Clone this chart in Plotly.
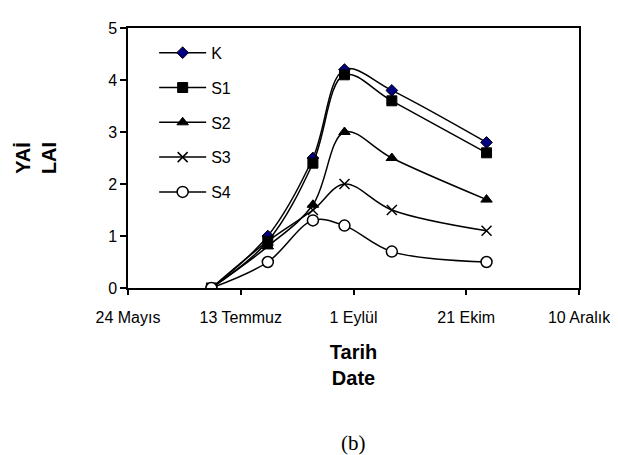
import plotly.graph_objects as go

dates = ["2006-06-30", "2006-07-25", "2006-08-14", "2006-08-28", "2006-09-18", "2006-10-30"]
K = [0, 1.0, 2.5, 4.2, 3.8, 2.8]
S1 = [0, 0.9, 2.4, 4.1, 3.6, 2.6]
S2 = [0, 0.8, 1.6, 3.0, 2.5, 1.7]
S3 = [0, 0.9, 1.5, 2.0, 1.5, 1.1]
S4 = [0, 0.5, 1.3, 1.2, 0.7, 0.5]

tick_dates = ["2006-05-24", "2006-07-13", "2006-09-01", "2006-10-21", "2006-12-10"]
tick_labels = ["24 Mayıs", "13 Temmuz", "1 Eylül", "21 Ekim", "10 Aralık"]

FONT = "Liberation Sans, Arial, sans-serif"

series = [
    ("K", K, dict(symbol="diamond", size=9, color="#000080", line=dict(color="black", width=1))),
    ("S1", S1, dict(symbol="square", size=10, color="black", line=dict(color="black", width=1))),
    ("S2", S2, dict(symbol="triangle-up", size=10, color="black", line=dict(color="black", width=1))),
    ("S3", S3, dict(symbol="x-thin", size=10, color="black", line=dict(color="black", width=1.5))),
    ("S4", S4, dict(symbol="circle", size=11, color="white", line=dict(color="black", width=1.5))),
]

fig = go.Figure()
for name, vals, mk in series:
    fig.add_trace(go.Scatter(
        x=dates, y=vals, name=name, mode="lines+markers",
        line=dict(color="black", width=1.5, shape="spline"),
        marker=mk, legendgroup=name,
    ))

fig.update_layout(
    width=618, height=455,
    margin=dict(l=120, r=47, t=14, b=175),
    paper_bgcolor="white", plot_bgcolor="white",
    font=dict(family=FONT, size=16, color="black"),
    showlegend=True,
    legend=dict(x=0.058, y=0.97, xanchor="left", yanchor="top",
                bgcolor="rgba(0,0,0,0)", font=dict(size=16),
                traceorder="grouped", tracegroupgap=11, itemwidth=47),
    xaxis=dict(
        type="date", range=["2006-05-24", "2006-12-10"],
        tickmode="array", tickvals=tick_dates, ticktext=tick_labels,
        ticks="outside", ticklen=5, tickwidth=1.5, tickcolor="black",
        showline=True, linecolor="black", linewidth=1.5, mirror=True,
        showgrid=False, zeroline=False, ticklabelstandoff=9,
        title=dict(text="<b>Tarih<br>Date</b>", standoff=20, font=dict(size=20)),
    ),
    yaxis=dict(
        range=[0, 5], dtick=1,
        ticks="outside", ticklen=6, tickwidth=1.5, tickcolor="black",
        showline=True, linecolor="black", linewidth=1.5, mirror=True,
        showgrid=False, zeroline=False,
        title=dict(text="<b>YAİ<br>LAI</b>", standoff=46, font=dict(size=20)),
    ),
    annotations=[dict(text="(b)", x=0.5, y=-0.65, xref="paper", yref="paper",
                      showarrow=False, font=dict(family="Liberation Serif, Times New Roman, serif", size=21))],
)

fig.write_html("out.html")
